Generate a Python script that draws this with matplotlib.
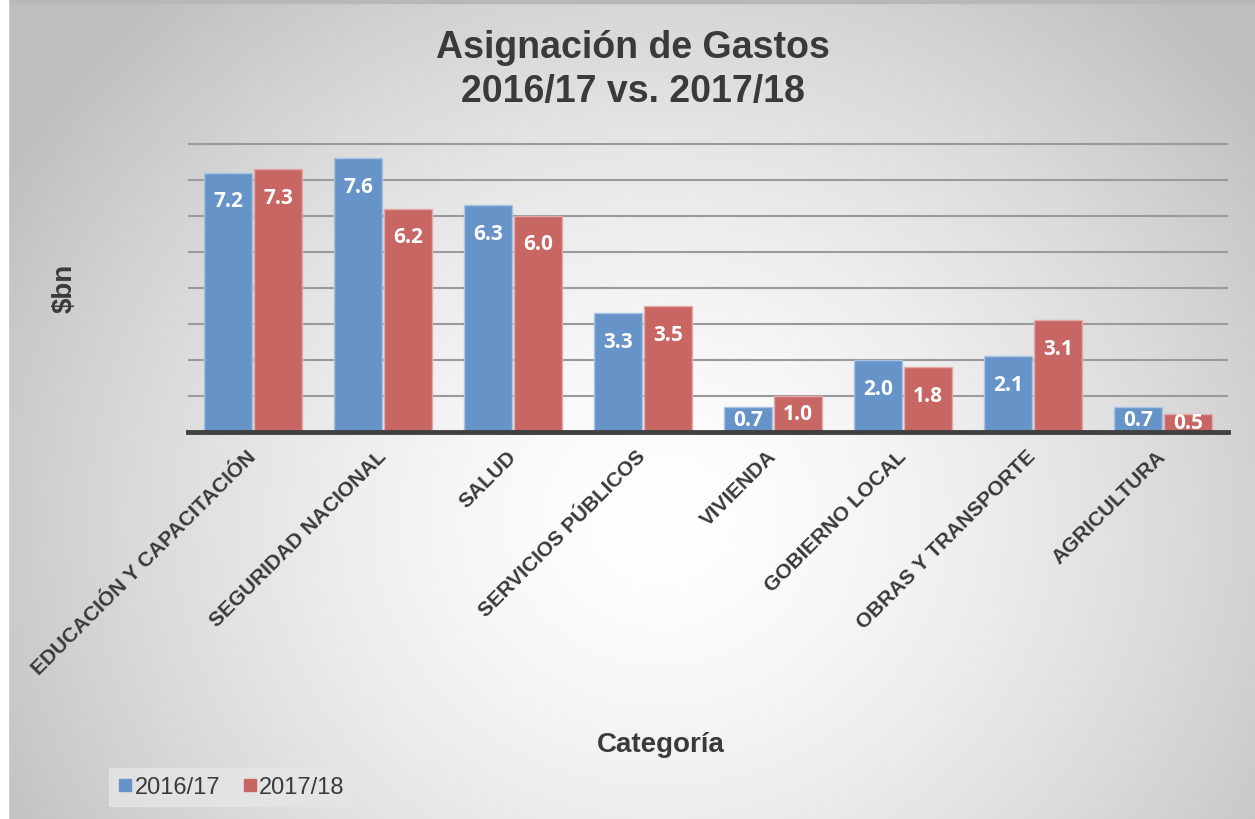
import numpy as np
import matplotlib
matplotlib.use("Agg")
import matplotlib.pyplot as plt
from matplotlib.patches import Rectangle
from matplotlib.lines import Line2D

categories = ["EDUCACIÓN Y CAPACITACIÓN", "SEGURIDAD NACIONAL", "SALUD",
              "SERVICIOS PÚBLICOS", "VIVIENDA", "GOBIERNO LOCAL",
              "OBRAS Y TRANSPORTE", "AGRICULTURA"]
v2016 = [7.2, 7.6, 6.3, 3.3, 0.7, 2.0, 2.1, 0.7]
v2017 = [7.3, 6.2, 6.0, 3.5, 1.0, 1.8, 3.1, 0.5]
series_names = ["2016/17", "2017/18"]
title = "Asignación de Gastos\n2016/17 vs. 2017/18"

BLUE = "#6794C8"
RED = "#C86664"
TXT = "#3a3a3a"

W, H = 1255, 820
fig = plt.figure(figsize=(W / 100, H / 100), dpi=100)
fig.patch.set_facecolor("white")

# background radial gradient
bg = fig.add_axes([0, 0, 1, 1], zorder=-10)
yy, xx = np.mgrid[0:H, 0:W]
cx, cy = 660, 520
d = np.sqrt(((xx - cx) / (W * 0.6)) ** 2 + ((yy - cy) / (H * 0.85)) ** 2)
val = 1.0 - 0.25 * np.clip(d, 0, 1) ** 1.5
img = np.dstack([val, val, val])
bg.imshow(img, extent=[0, W, H, 0], aspect="auto", interpolation="bilinear")
bg.add_patch(Rectangle((0, 0), W, 4, color="#b8b8b8"))
bg.add_patch(Rectangle((0, 0), 8, H, color="#ffffff"))
bg.set_xlim(0, W)
bg.set_ylim(H, 0)
bg.axis("off")

ax = fig.add_axes([188 / W, 1 - 433 / H, (1228 - 188) / W, (433 - 143) / H])
ax.patch.set_alpha(0)
x = np.arange(len(categories))
bw = 0.375
b1 = ax.bar(x - bw / 2 - 0.004, v2016, bw, color=BLUE, edgecolor="#a9c3e3", linewidth=1.0, zorder=3, label=series_names[0])
b2 = ax.bar(x + bw / 2 + 0.004, v2017, bw, color=RED, edgecolor="#e3a9a8", linewidth=1.0, zorder=3, label=series_names[1])

ax.set_xlim(-0.5, len(categories) - 0.5)
ax.set_ylim(0, 8.05)
ax.set_yticks(np.arange(1, 9))
ax.yaxis.grid(True, color="#9a9a9a", linewidth=1.5, zorder=0)
ax.tick_params(axis="y", length=0, labelleft=False)
ax.tick_params(axis="x", length=0, pad=15)
for s in ["top", "right", "left"]:
    ax.spines[s].set_visible(False)
ax.spines["bottom"].set_color("#404040")
ax.spines["bottom"].set_linewidth(3.5)
ax.spines["bottom"].set_zorder(5)

ax.set_xticks(x)
ax.set_xticklabels(categories, rotation=45, ha="right", va="center",
                   rotation_mode="anchor", fontsize=15, fontweight="bold",
                   color=TXT, family="Liberation Sans")

def label_y(v):
    return max(v - 0.78, v * 0.5)

for bars, vals in ((b1, v2016), (b2, v2017)):
    for rect, v in zip(bars, vals):
        ax.text(rect.get_x() + rect.get_width() / 2, label_y(v), f"{v:.1f}",
                ha="center", va="center", color="white", fontsize=15,
                fontweight="bold", family="Open Sans", zorder=6)

fig.text(633 / W, 1 - 70 / H, title, ha="center", va="center", fontsize=27,
         fontweight="bold", color=TXT, family="Liberation Sans", linespacing=1.3)
fig.text(65 / W, 1 - 288 / H, "$bn", rotation=90, ha="center", va="center",
         fontsize=20, fontweight="bold", color=TXT, family="Liberation Sans")
fig.text(661 / W, 1 - 745 / H, "Categoría", ha="center", va="center",
         fontsize=20, fontweight="bold", color=TXT, family="Liberation Sans")

handles = [Line2D([], [], marker="s", linestyle="none", markersize=8, markerfacecolor=BLUE, markeredgecolor=BLUE),
           Line2D([], [], marker="s", linestyle="none", markersize=8, markerfacecolor=RED, markeredgecolor=RED)]
leg = fig.legend(handles, series_names, loc="center left", bbox_to_anchor=(97 / W, 1 - 788 / H),
                 ncol=2, frameon=True, fancybox=False, facecolor="#e6e6e6", edgecolor="#e6e6e6",
                 prop={"family": "Liberation Sans", "size": 17}, handletextpad=0.05,
                 columnspacing=0.9, handlelength=0.7, borderpad=0.35)
leg.get_frame().set_alpha(0.8)
for t in leg.get_texts():
    t.set_color(TXT)

fig.savefig("out.png", dpi=100)
